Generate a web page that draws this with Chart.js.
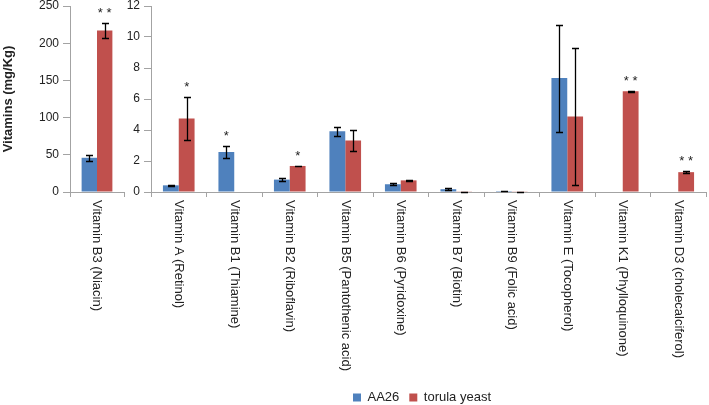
<!DOCTYPE html>
<html>
<head>
<meta charset="utf-8">
<script src="https://cdn.jsdelivr.net/npm/chart.js@4.4.1/dist/chart.umd.min.js"></script>
<style>
  html, body { margin: 0; padding: 0; background: #fff; overflow: hidden; }
  #wrap { position: relative; width: 709px; height: 405px; }
  .panel { position: absolute; top: 0; height: 414px; }
  #leftBox { left: 0; width: 126px; }
  #rightBox { left: 126px; width: 583px; }
</style>
</head>
<body>
<div id="wrap">
  <div class="panel" id="leftBox"><canvas id="niacinChart"></canvas></div>
  <div class="panel" id="rightBox"><canvas id="vitChart"></canvas></div>
</div>
<script>
// ------------------------------
// Data (mg/Kg), left panel = niacin on its own scale.
const seriesNames = ['AA26', 'torula yeast'];
const seriesColors = ['#4F81BD', '#C0504D'];

const niacinLabels = ['Vitamin B3 (Niacin)'];
const niacinAA26 = [46];
const niacinAA26Err = [4];
const niacinTorula = [217];
const niacinTorulaErr = [9.5];
const niacinSig = ['**'];
const niacinSigSeries = [1];
const niacinTicks = [0, 50, 100, 150, 200, 250];

const vitLabels = [
  'Vitamin A (Retinol)',
  'Vitamin B1 (Thiamine)',
  'Vitamin B2 (Riboflavin)',
  'Vitamin B5 (Pantothenic acid)',
  'Vitamin B6 (Pyridoxine)',
  'Vitamin B7 (Biotin)',
  'Vitamin B9 (Folic acid)',
  'Vitamin E (Tocopherol)',
  'Vitamin K1 (Phylloquinone)',
  'Vitamin D3 (cholecalciferol)'
];
const vitAA26 = [0.43, 2.58, 0.8, 3.92, 0.5, 0.18, 0.06, 7.35, 0, 0];
const vitAA26Err = [0.05, 0.4, 0.1, 0.3, 0.07, 0.05, 0.01, 3.45, 0, 0];
const vitTorula = [4.75, 0, 1.68, 3.33, 0.75, 0.02, 0.02, 4.87, 6.5, 1.28];
const vitTorulaErr = [1.4, 0, 0.02, 0.68, 0.04, 0, 0, 4.4, 0.02, 0.08];
const vitSig = ['*', '*', '*', '', '', '', '', '', '**', '**'];
const vitSigSeries = [1, 0, 1, 0, 0, 0, 0, 0, 1, 1];
const vitTicks = [0, 2, 4, 6, 8, 10, 12];

const FONT = "'Liberation Sans', Arial, Helvetica, sans-serif";
const AXIS_GREY = '#a3a3a3';
const TEXT = '#222';
const AREA_TOP = 6;        // pixel row of the top tick in both panels
const AREA_BOTTOM = 192;   // pixel row of the zero line in both panels

Chart.defaults.font.family = FONT;
Chart.defaults.color = TEXT;

// ------------------------------
// Error bars + significance stars drawn from the bar elements.
const errorBarPlugin = {
  id: 'errorBars',
  afterDatasetsDraw: function(chart, args, opts) {
    const ctx = chart.ctx;
    const yScale = chart.scales.y;
    ctx.save();
    ctx.strokeStyle = '#000';
    ctx.lineWidth = 1.3;
    chart.data.datasets.forEach(function(ds, di) {
      const meta = chart.getDatasetMeta(di);
      meta.data.forEach(function(bar, i) {
        const v = ds.data[i];
        const e = ds.errors[i];
        if (!v && !e) return;
        const top = Math.round(yScale.getPixelForValue(v + e)) + 0.5;
        const bot = Math.round(yScale.getPixelForValue(Math.max(v - e, 0))) + 0.5;
        const x = Math.round(bar.x) + 0.5;
        ctx.beginPath();
        ctx.moveTo(x, top); ctx.lineTo(x, bot);
        ctx.moveTo(x - 3.5, top); ctx.lineTo(x + 3.5, top);
        ctx.moveTo(x - 3.5, bot); ctx.lineTo(x + 3.5, bot);
        ctx.stroke();
      });
    });
    // stars
    ctx.fillStyle = TEXT;
    ctx.font = '13px ' + FONT;
    ctx.textAlign = 'center';
    ctx.textBaseline = 'alphabetic';
    opts.marks.forEach(function(m, i) {
      if (!m) return;
      const di = opts.series[i];
      const ds = chart.data.datasets[di];
      const bar = chart.getDatasetMeta(di).data[i];
      const yTop = yScale.getPixelForValue(ds.data[i] + ds.errors[i]);
      ctx.fillText(m.split('').join(' '), bar.x, yTop - 6);
    });
    ctx.restore();
  }
};

// Category labels read top-to-bottom (rotated clockwise), as in the source figure.
const downLabelsPlugin = {
  id: 'downLabels',
  afterDraw: function(chart) {
    const ctx = chart.ctx;
    const xScale = chart.scales.x;
    ctx.save();
    ctx.fillStyle = TEXT;
    ctx.font = '13px ' + FONT;
    ctx.textAlign = 'left';
    ctx.textBaseline = 'middle';
    chart.data.labels.forEach(function(label, i) {
      const x = xScale.getPixelForTick(i);
      ctx.save();
      ctx.translate(x, xScale.top + 8);
      ctx.rotate(Math.PI / 2);
      ctx.fillText(label, 0, 0);
      ctx.restore();
    });
    ctx.restore();
  }
};

// nudge the legend a few px right so it sits under the whole figure's middle
const legendShiftPlugin = {
  id: 'legendShift',
  afterLayout: function(chart, args, opts) {
    if (chart.legend) {
      chart.legend.left += opts.dx;
      chart.legend.right += opts.dx;
    }
  }
};

function makeDatasets(a, aErr, t, tErr) {
  return [
    { label: seriesNames[0], data: a, errors: aErr, backgroundColor: seriesColors[0], borderWidth: 0,
      categoryPercentage: 0.57, barPercentage: 1 },
    { label: seriesNames[1], data: t, errors: tErr, backgroundColor: seriesColors[1], borderWidth: 0,
      categoryPercentage: 0.57, barPercentage: 1 }
  ];
}

function xAxis() {
  return {
    ticks: { display: false },
    grid: { drawOnChartArea: false, drawTicks: true, tickLength: 5, color: AXIS_GREY, offset: true },
    border: { display: true, color: AXIS_GREY },
    afterFit: function(scale) {
      const legendH = (scale.chart.legend && scale.chart.options.plugins.legend.display) ? scale.chart.legend.height : 0;
      scale.height = scale.chart.height - AREA_BOTTOM - legendH;
    }
  };
}

function yAxis(ticks, width, title) {
  const ax = {
    min: ticks[0], max: ticks[ticks.length - 1],
    ticks: { stepSize: ticks[1] - ticks[0], padding: 4, font: { size: 12 }, color: TEXT },
    grid: { drawOnChartArea: false, drawTicks: true, tickLength: 7, color: AXIS_GREY },
    border: { display: true, color: AXIS_GREY },
    afterFit: function(scale) {
      scale.width = width;
      scale.paddingTop = AREA_TOP;
      scale.paddingBottom = 0;
    }
  };
  if (title) {
    ax.title = { display: true, text: title, font: { size: 13, weight: 'bold' }, color: TEXT, padding: { top: 1, bottom: 0 } };
  }
  return ax;
}

// ------------------------------
// Left panel: niacin, 0-250.
new Chart(document.getElementById('niacinChart'), {
  type: 'bar',
  data: {
    labels: niacinLabels,
    datasets: makeDatasets(niacinAA26, niacinAA26Err, niacinTorula, niacinTorulaErr)
  },
  options: {
    responsive: true,
    maintainAspectRatio: false,
    animation: false,
    layout: { padding: { left: 0, right: 2, top: 0, bottom: 0 } },
    scales: {
      x: xAxis(),
      y: yAxis(niacinTicks, 70, 'Vitamins (mg/Kg)')
    },
    plugins: {
      legend: { display: false },
      tooltip: { enabled: false },
      errorBars: { marks: niacinSig, series: niacinSigSeries }
    }
  },
  plugins: [errorBarPlugin, downLabelsPlugin]
});

// ------------------------------
// Right panel: the other vitamins, 0-12.
new Chart(document.getElementById('vitChart'), {
  type: 'bar',
  data: {
    labels: vitLabels,
    datasets: makeDatasets(vitAA26, vitAA26Err, vitTorula, vitTorulaErr)
  },
  options: {
    responsive: true,
    maintainAspectRatio: false,
    animation: false,
    layout: { padding: { left: 0, right: 3, top: 0, bottom: 0 } },
    scales: {
      x: xAxis(),
      y: yAxis(vitTicks, 25)
    },
    plugins: {
      legend: {
        display: true,
        position: 'bottom',
        labels: { boxWidth: 8, boxHeight: 8, padding: 10, font: { size: 13 }, color: TEXT }
      },
      legendShift: { dx: 6 },
      tooltip: { enabled: false },
      errorBars: { marks: vitSig, series: vitSigSeries }
    }
  },
  plugins: [errorBarPlugin, downLabelsPlugin, legendShiftPlugin]
});
</script>
</body>
</html>
